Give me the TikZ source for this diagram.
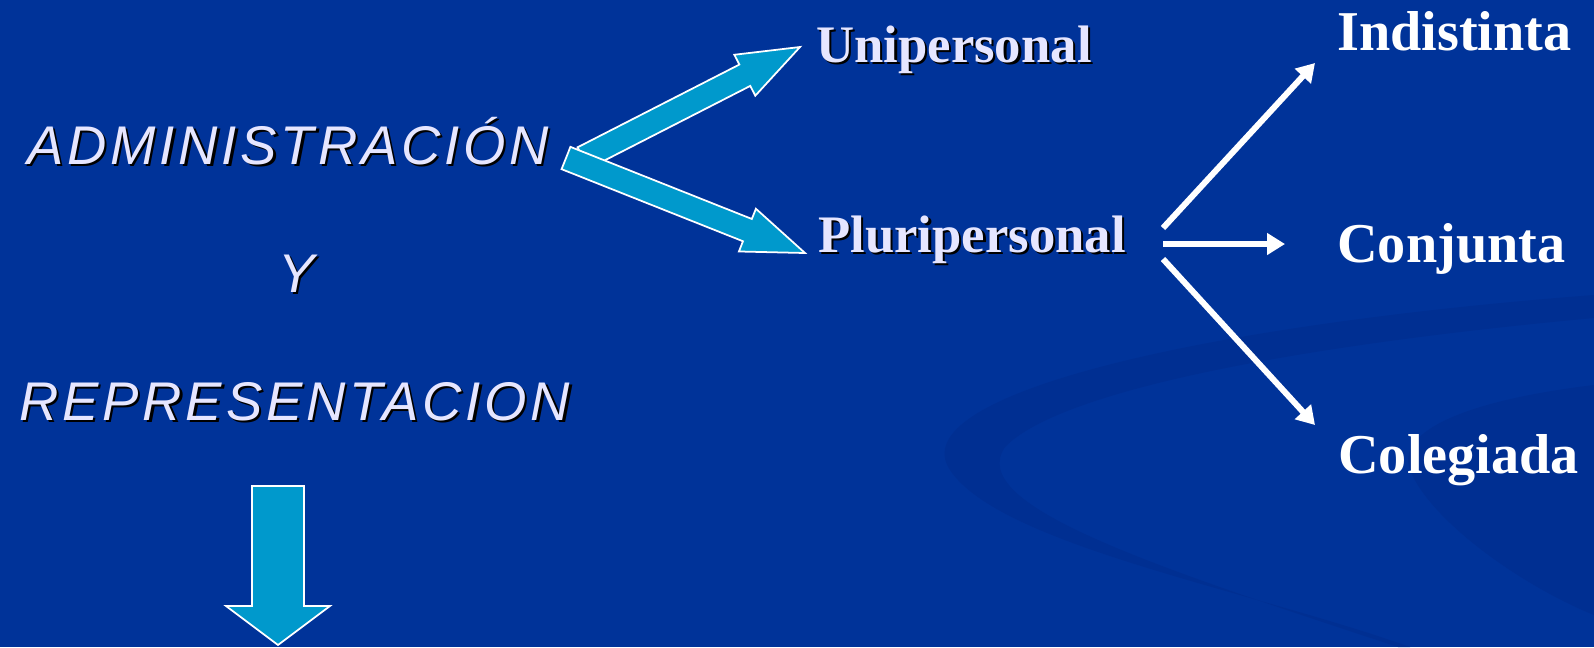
\documentclass[tikz,border=0pt]{standalone}
\usepackage{fontspec}
\setmainfont{Liberation Serif}
\newfontfamily\titlefont{Liberation Sans}[LetterSpace=7.0]
\usepackage{tikz}
\usetikzlibrary{calc,arrows.meta,positioning}
\definecolor{clrFond}{RGB}{0,51,153}
\definecolor{clrVague}{RGB}{0,47,146}
\definecolor{clrFleche}{RGB}{0,153,204}
\definecolor{clrTexte}{RGB}{230,230,255}
\newcommand{\ombre}[1]{\makebox[0pt][l]{\hspace{1.3pt}\raisebox{-1.3pt}{\color{black}#1}}#1}
\tikzstyle{titre}=[inner sep=0pt, anchor=base west, text=clrTexte,
font=\titlefont\itshape\fontsize{31}{37}\selectfont]
\tikzstyle{branche}=[inner sep=0pt, anchor=base west, text=clrTexte, font=\bfseries\fontsize{30}{36}\selectfont]
\tikzstyle{choix}=[inner sep=0pt, anchor=base west, text=white, font=\bfseries\fontsize{32}{38}\selectfont]
\tikzstyle{fine}=[-{Triangle[length=0.36cm,width=0.42cm]}, white, line width=0.12cm]
\tikzstyle{grosse}=[fill=clrFleche, draw=white, line width=1pt, line join=miter]
% #1 queue, #2 pointe, #3 demi-largeur, #4 demi-tete, #5 longueur tete
\newcommand{\grossefleche}[5]{%
  \coordinate (tmpH) at ($(#2)!#5!(#1)$);
  \draw[grosse] ($(#1)!#3!90:(#2)$) -- ($(tmpH)!#3!90:(#2)$) -- ($(tmpH)!#4!90:(#2)$) -- (#2)
    -- ($(tmpH)!#4!-90:(#2)$) -- ($(tmpH)!#3!-90:(#2)$) -- ($(#1)!#3!-90:(#2)$) -- cycle;}

\begin{document}
\begin{tikzpicture}[x=0.02cm, y=-0.02cm]
		\fill[clrFond] (0,0) rectangle (1594,647);
		\useasboundingbox (0,0) rectangle (1594,647);

		% vagues du fond
		\fill[clrVague] (1594,295) .. controls (1200,325) and (900,395) .. (950,470)
			.. controls (1000,545) and (1250,590) .. (1410,647) -- (1398,647)
			.. controls (1150,565) and (965,505) .. (1005,447)
			.. controls (1060,390) and (1300,345) .. (1594,318) -- cycle;
		\fill[clrVague] (1594,385) .. controls (1470,400) and (1395,430) .. (1410,470)
			.. controls (1430,520) and (1520,585) .. (1594,615) -- cycle;

		\node[titre] (A) at (27,164) {\ombre{ADMINISTRACIÓN}} ;
		\node[titre] (B) at (278,292) {\ombre{Y}} ;
		\node[titre] (C) at (19,420) {\ombre{REPRESENTACION}} ;

		\node[branche] (D) at (816,62) {\ombre{Unipersonal}} ;
		\node[branche] (E) at (818,252) {\ombre{Pluripersonal}} ;

		\node[choix] (F) at (1337,50) {Indistinta} ;
		\node[choix] (G) at (1337,262) {Conjunta} ;
		\node[choix] (H) at (1338,473) {Colegiada} ;

		\coordinate (A1) at (583,158) ;
		\coordinate (A2) at (566,158) ;
		\coordinate (D1) at (800,47) ;
		\coordinate (E1) at (805,253) ;
		\coordinate (C1) at (278,486) ;
		\coordinate (C2) at (278,645) ; % sort du cadre

		\grossefleche{A1}{D1}{0.24cm}{0.46cm}{1.24cm}
		\grossefleche{A2}{E1}{0.24cm}{0.46cm}{1.24cm}
		\grossefleche{C1}{C2}{0.52cm}{1.04cm}{0.78cm}

		\coordinate (E2) at (1163,228) ;
		\coordinate (E3) at (1163,244) ;
		\coordinate (E4) at (1163,259) ;
		\coordinate (F1) at (1315,63) ;
		\coordinate (G1) at (1285,244) ;
		\coordinate (H1) at (1315,425) ;
		\draw[fine] (E2) -- (F1) ;
		\draw[fine] (E3) -- (G1) ;
		\draw[fine] (E4) -- (H1) ;

\end{tikzpicture}
\end{document}
